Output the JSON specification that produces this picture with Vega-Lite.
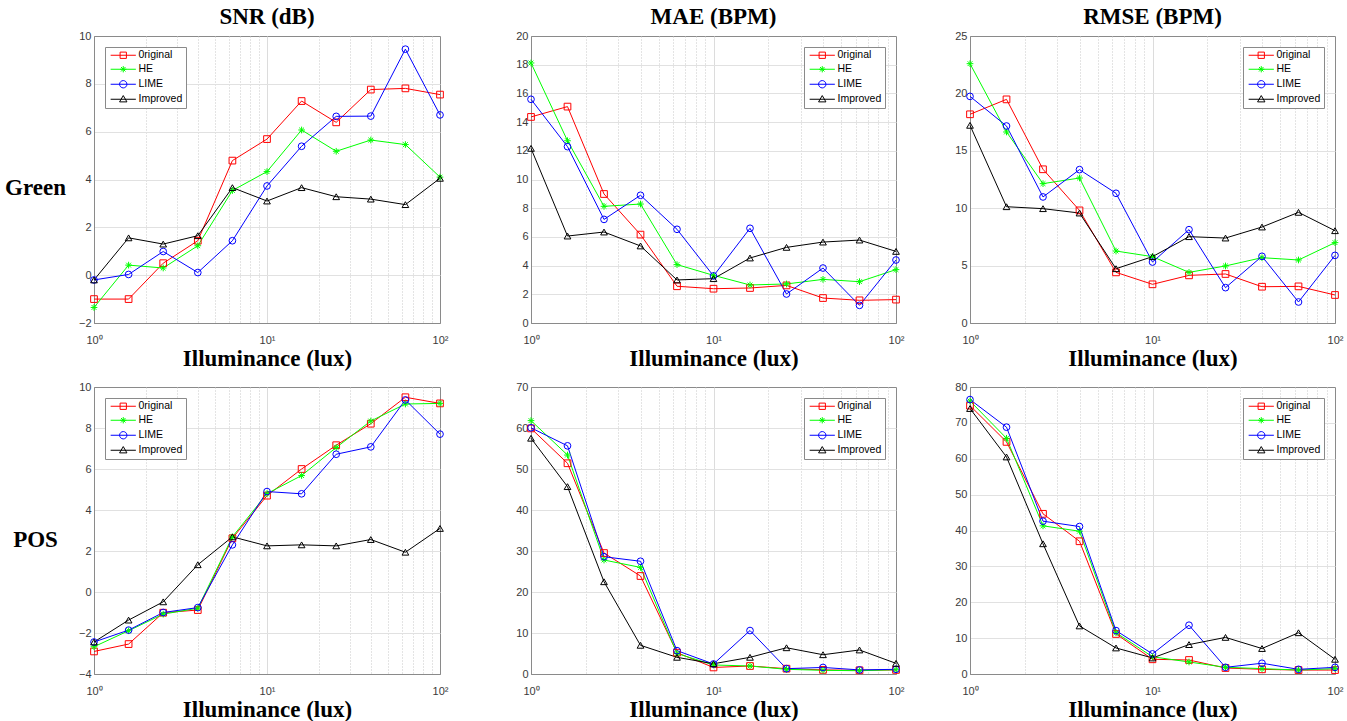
{
"$schema":"https://vega.github.io/schema/vega-lite/v6.json",
"padding":{"left":4,"top":5,"right":5,"bottom":0},
"spacing":66,
"resolve":{"scale":{"color":"independent","shape":"independent"},"legend":{"color":"independent","shape":"independent"}},
"config":{
 "font":"Liberation Sans",
 "view":{"stroke":"#8a8a8a","strokeWidth":1},
 "axis":{"domainColor":"#8a8a8a","domainWidth":1,"ticks":false,"labelFont":"Liberation Sans","labelFontSize":11,"labelColor":"#3a3a3a","labelPadding":3,"gridWidth":1,"gridColor":"#e1e1e1","labelFlush":false,"labelOverlap":false,"titleFont":"Liberation Serif","titleFontSize":23,"titleFontWeight":"bold","titleColor":"#000000"},
 "axisX":{"labelPadding":11,"titlePadding":2},
 "title":{"font":"Liberation Serif","fontSize":23,"fontWeight":"bold","color":"#000000","offset":1,"anchor":"middle"},
 "legend":{"padding":3,"strokeColor":"#8a8a8a","fillColor":"#ffffff","labelFont":"Liberation Sans","labelFontSize":10.5,"labelColor":"#000000","symbolSize":49,"symbolOffset":10,"labelOffset":10,"rowPadding":3,"symbolStrokeWidth":1,"cornerRadius":0}
},
"datasets":{"d":[
{"p":"GS","s":"0riginal","x":1,"y":-1.0},{"p":"GS","s":"0riginal","x":1.585,"y":-1.0},{"p":"GS","s":"0riginal","x":2.512,"y":0.5},{"p":"GS","s":"0riginal","x":3.981,"y":1.44},{"p":"GS","s":"0riginal","x":6.31,"y":4.79},{"p":"GS","s":"0riginal","x":10,"y":5.69},{"p":"GS","s":"0riginal","x":15.85,"y":7.28},{"p":"GS","s":"0riginal","x":25.12,"y":6.39},{"p":"GS","s":"0riginal","x":39.81,"y":7.76},{"p":"GS","s":"0riginal","x":63.1,"y":7.81},{"p":"GS","s":"0riginal","x":100,"y":7.55},
{"p":"GS","s":"HE","x":1,"y":-1.35},{"p":"GS","s":"HE","x":1.585,"y":0.42},{"p":"GS","s":"HE","x":2.512,"y":0.3},{"p":"GS","s":"HE","x":3.981,"y":1.23},{"p":"GS","s":"HE","x":6.31,"y":3.54},{"p":"GS","s":"HE","x":10,"y":4.33},{"p":"GS","s":"HE","x":15.85,"y":6.07},{"p":"GS","s":"HE","x":25.12,"y":5.18},{"p":"GS","s":"HE","x":39.81,"y":5.65},{"p":"GS","s":"HE","x":63.1,"y":5.46},{"p":"GS","s":"HE","x":100,"y":4.1},
{"p":"GS","s":"LIME","x":1,"y":-0.2},{"p":"GS","s":"LIME","x":1.585,"y":0.03},{"p":"GS","s":"LIME","x":2.512,"y":0.99},{"p":"GS","s":"LIME","x":3.981,"y":0.11},{"p":"GS","s":"LIME","x":6.31,"y":1.44},{"p":"GS","s":"LIME","x":10,"y":3.73},{"p":"GS","s":"LIME","x":15.85,"y":5.39},{"p":"GS","s":"LIME","x":25.12,"y":6.64},{"p":"GS","s":"LIME","x":39.81,"y":6.65},{"p":"GS","s":"LIME","x":63.1,"y":9.45},{"p":"GS","s":"LIME","x":100,"y":6.7},
{"p":"GS","s":"Improved","x":1,"y":-0.2},{"p":"GS","s":"Improved","x":1.585,"y":1.56},{"p":"GS","s":"Improved","x":2.512,"y":1.3},{"p":"GS","s":"Improved","x":3.981,"y":1.65},{"p":"GS","s":"Improved","x":6.31,"y":3.66},{"p":"GS","s":"Improved","x":10,"y":3.1},{"p":"GS","s":"Improved","x":15.85,"y":3.66},{"p":"GS","s":"Improved","x":25.12,"y":3.28},{"p":"GS","s":"Improved","x":39.81,"y":3.18},{"p":"GS","s":"Improved","x":63.1,"y":2.95},{"p":"GS","s":"Improved","x":100,"y":4.05},
{"p":"GM","s":"0riginal","x":1,"y":14.36},{"p":"GM","s":"0riginal","x":1.585,"y":15.08},{"p":"GM","s":"0riginal","x":2.512,"y":8.99},{"p":"GM","s":"0riginal","x":3.981,"y":6.16},{"p":"GM","s":"0riginal","x":6.31,"y":2.56},{"p":"GM","s":"0riginal","x":10,"y":2.39},{"p":"GM","s":"0riginal","x":15.85,"y":2.44},{"p":"GM","s":"0riginal","x":25.12,"y":2.62},{"p":"GM","s":"0riginal","x":39.81,"y":1.74},{"p":"GM","s":"0riginal","x":63.1,"y":1.58},{"p":"GM","s":"0riginal","x":100,"y":1.63},
{"p":"GM","s":"HE","x":1,"y":18.12},{"p":"GM","s":"HE","x":1.585,"y":12.7},{"p":"GM","s":"HE","x":2.512,"y":8.13},{"p":"GM","s":"HE","x":3.981,"y":8.29},{"p":"GM","s":"HE","x":6.31,"y":4.07},{"p":"GM","s":"HE","x":10,"y":3.32},{"p":"GM","s":"HE","x":15.85,"y":2.65},{"p":"GM","s":"HE","x":25.12,"y":2.72},{"p":"GM","s":"HE","x":39.81,"y":3.04},{"p":"GM","s":"HE","x":63.1,"y":2.88},{"p":"GM","s":"HE","x":100,"y":3.72},
{"p":"GM","s":"LIME","x":1,"y":15.59},{"p":"GM","s":"LIME","x":1.585,"y":12.29},{"p":"GM","s":"LIME","x":2.512,"y":7.22},{"p":"GM","s":"LIME","x":3.981,"y":8.9},{"p":"GM","s":"LIME","x":6.31,"y":6.53},{"p":"GM","s":"LIME","x":10,"y":3.28},{"p":"GM","s":"LIME","x":15.85,"y":6.6},{"p":"GM","s":"LIME","x":25.12,"y":2.02},{"p":"GM","s":"LIME","x":39.81,"y":3.83},{"p":"GM","s":"LIME","x":63.1,"y":1.23},{"p":"GM","s":"LIME","x":100,"y":4.39},
{"p":"GM","s":"Improved","x":1,"y":12.17},{"p":"GM","s":"Improved","x":1.585,"y":6.06},{"p":"GM","s":"Improved","x":2.512,"y":6.34},{"p":"GM","s":"Improved","x":3.981,"y":5.37},{"p":"GM","s":"Improved","x":6.31,"y":3.0},{"p":"GM","s":"Improved","x":10,"y":3.09},{"p":"GM","s":"Improved","x":15.85,"y":4.53},{"p":"GM","s":"Improved","x":25.12,"y":5.27},{"p":"GM","s":"Improved","x":39.81,"y":5.64},{"p":"GM","s":"Improved","x":63.1,"y":5.78},{"p":"GM","s":"Improved","x":100,"y":4.99},
{"p":"GR","s":"0riginal","x":1,"y":18.18},{"p":"GR","s":"0riginal","x":1.585,"y":19.48},{"p":"GR","s":"0riginal","x":2.512,"y":13.39},{"p":"GR","s":"0riginal","x":3.981,"y":9.81},{"p":"GR","s":"0riginal","x":6.31,"y":4.41},{"p":"GR","s":"0riginal","x":10,"y":3.37},{"p":"GR","s":"0riginal","x":15.85,"y":4.15},{"p":"GR","s":"0riginal","x":25.12,"y":4.27},{"p":"GR","s":"0riginal","x":39.81,"y":3.16},{"p":"GR","s":"0riginal","x":63.1,"y":3.19},{"p":"GR","s":"0riginal","x":100,"y":2.44},
{"p":"GR","s":"HE","x":1,"y":22.59},{"p":"GR","s":"HE","x":1.585,"y":16.64},{"p":"GR","s":"HE","x":2.512,"y":12.14},{"p":"GR","s":"HE","x":3.981,"y":12.63},{"p":"GR","s":"HE","x":6.31,"y":6.27},{"p":"GR","s":"HE","x":10,"y":5.78},{"p":"GR","s":"HE","x":15.85,"y":4.41},{"p":"GR","s":"HE","x":25.12,"y":4.97},{"p":"GR","s":"HE","x":39.81,"y":5.69},{"p":"GR","s":"HE","x":63.1,"y":5.49},{"p":"GR","s":"HE","x":100,"y":7.0},
{"p":"GR","s":"LIME","x":1,"y":19.74},{"p":"GR","s":"LIME","x":1.585,"y":17.16},{"p":"GR","s":"LIME","x":2.512,"y":10.98},{"p":"GR","s":"LIME","x":3.981,"y":13.36},{"p":"GR","s":"LIME","x":6.31,"y":11.3},{"p":"GR","s":"LIME","x":10,"y":5.31},{"p":"GR","s":"LIME","x":15.85,"y":8.13},{"p":"GR","s":"LIME","x":25.12,"y":3.08},{"p":"GR","s":"LIME","x":39.81,"y":5.81},{"p":"GR","s":"LIME","x":63.1,"y":1.83},{"p":"GR","s":"LIME","x":100,"y":5.89},
{"p":"GR","s":"Improved","x":1,"y":17.22},{"p":"GR","s":"Improved","x":1.585,"y":10.13},{"p":"GR","s":"Improved","x":2.512,"y":9.96},{"p":"GR","s":"Improved","x":3.981,"y":9.58},{"p":"GR","s":"Improved","x":6.31,"y":4.73},{"p":"GR","s":"Improved","x":10,"y":5.78},{"p":"GR","s":"Improved","x":15.85,"y":7.52},{"p":"GR","s":"Improved","x":25.12,"y":7.4},{"p":"GR","s":"Improved","x":39.81,"y":8.36},{"p":"GR","s":"Improved","x":63.1,"y":9.64},{"p":"GR","s":"Improved","x":100,"y":8.04},
{"p":"PS","s":"0riginal","x":1,"y":-2.9},{"p":"PS","s":"0riginal","x":1.585,"y":-2.54},{"p":"PS","s":"0riginal","x":2.512,"y":-1.01},{"p":"PS","s":"0riginal","x":3.981,"y":-0.88},{"p":"PS","s":"0riginal","x":6.31,"y":2.62},{"p":"PS","s":"0riginal","x":10,"y":4.7},{"p":"PS","s":"0riginal","x":15.85,"y":6.0},{"p":"PS","s":"0riginal","x":25.12,"y":7.16},{"p":"PS","s":"0riginal","x":39.81,"y":8.21},{"p":"PS","s":"0riginal","x":63.1,"y":9.5},{"p":"PS","s":"0riginal","x":100,"y":9.2},
{"p":"PS","s":"HE","x":1,"y":-2.67},{"p":"PS","s":"HE","x":1.585,"y":-1.89},{"p":"PS","s":"HE","x":2.512,"y":-1.08},{"p":"PS","s":"HE","x":3.981,"y":-0.79},{"p":"PS","s":"HE","x":6.31,"y":2.69},{"p":"PS","s":"HE","x":10,"y":4.8},{"p":"PS","s":"HE","x":15.85,"y":5.68},{"p":"PS","s":"HE","x":25.12,"y":7.05},{"p":"PS","s":"HE","x":39.81,"y":8.34},{"p":"PS","s":"HE","x":63.1,"y":9.17},{"p":"PS","s":"HE","x":100,"y":9.2},
{"p":"PS","s":"LIME","x":1,"y":-2.44},{"p":"PS","s":"LIME","x":1.585,"y":-1.86},{"p":"PS","s":"LIME","x":2.512,"y":-1.0},{"p":"PS","s":"LIME","x":3.981,"y":-0.76},{"p":"PS","s":"LIME","x":6.31,"y":2.3},{"p":"PS","s":"LIME","x":10,"y":4.9},{"p":"PS","s":"LIME","x":15.85,"y":4.79},{"p":"PS","s":"LIME","x":25.12,"y":6.72},{"p":"PS","s":"LIME","x":39.81,"y":7.08},{"p":"PS","s":"LIME","x":63.1,"y":9.37},{"p":"PS","s":"LIME","x":100,"y":7.7},
{"p":"PS","s":"Improved","x":1,"y":-2.44},{"p":"PS","s":"Improved","x":1.585,"y":-1.37},{"p":"PS","s":"Improved","x":2.512,"y":-0.48},{"p":"PS","s":"Improved","x":3.981,"y":1.33},{"p":"PS","s":"Improved","x":6.31,"y":2.69},{"p":"PS","s":"Improved","x":10,"y":2.25},{"p":"PS","s":"Improved","x":15.85,"y":2.3},{"p":"PS","s":"Improved","x":25.12,"y":2.25},{"p":"PS","s":"Improved","x":39.81,"y":2.56},{"p":"PS","s":"Improved","x":63.1,"y":1.94},{"p":"PS","s":"Improved","x":100,"y":3.1},
{"p":"PM","s":"0riginal","x":1,"y":59.9},{"p":"PM","s":"0riginal","x":1.585,"y":51.4},{"p":"PM","s":"0riginal","x":2.512,"y":29.5},{"p":"PM","s":"0riginal","x":3.981,"y":23.9},{"p":"PM","s":"0riginal","x":6.31,"y":5.2},{"p":"PM","s":"0riginal","x":10,"y":1.6},{"p":"PM","s":"0riginal","x":15.85,"y":1.95},{"p":"PM","s":"0riginal","x":25.12,"y":1.3},{"p":"PM","s":"0riginal","x":39.81,"y":1.0},{"p":"PM","s":"0riginal","x":63.1,"y":0.9},{"p":"PM","s":"0riginal","x":100,"y":1.0},
{"p":"PM","s":"HE","x":1,"y":61.8},{"p":"PM","s":"HE","x":1.585,"y":53.4},{"p":"PM","s":"HE","x":2.512,"y":27.8},{"p":"PM","s":"HE","x":3.981,"y":26.0},{"p":"PM","s":"HE","x":6.31,"y":5.0},{"p":"PM","s":"HE","x":10,"y":2.2},{"p":"PM","s":"HE","x":15.85,"y":1.95},{"p":"PM","s":"HE","x":25.12,"y":1.14},{"p":"PM","s":"HE","x":39.81,"y":0.9},{"p":"PM","s":"HE","x":63.1,"y":0.8},{"p":"PM","s":"HE","x":100,"y":1.05},
{"p":"PM","s":"LIME","x":1,"y":60.05},{"p":"PM","s":"LIME","x":1.585,"y":55.65},{"p":"PM","s":"LIME","x":2.512,"y":28.6},{"p":"PM","s":"LIME","x":3.981,"y":27.5},{"p":"PM","s":"LIME","x":6.31,"y":5.7},{"p":"PM","s":"LIME","x":10,"y":2.44},{"p":"PM","s":"LIME","x":15.85,"y":10.6},{"p":"PM","s":"LIME","x":25.12,"y":1.3},{"p":"PM","s":"LIME","x":39.81,"y":1.6},{"p":"PM","s":"LIME","x":63.1,"y":1.0},{"p":"PM","s":"LIME","x":100,"y":1.14},
{"p":"PM","s":"Improved","x":1,"y":57.5},{"p":"PM","s":"Improved","x":1.585,"y":45.7},{"p":"PM","s":"Improved","x":2.512,"y":22.5},{"p":"PM","s":"Improved","x":3.981,"y":7.0},{"p":"PM","s":"Improved","x":6.31,"y":4.07},{"p":"PM","s":"Improved","x":10,"y":2.5},{"p":"PM","s":"Improved","x":15.85,"y":4.07},{"p":"PM","s":"Improved","x":25.12,"y":6.4},{"p":"PM","s":"Improved","x":39.81,"y":4.7},{"p":"PM","s":"Improved","x":63.1,"y":5.86},{"p":"PM","s":"Improved","x":100,"y":2.6},
{"p":"PR","s":"0riginal","x":1,"y":74.8},{"p":"PR","s":"0riginal","x":1.585,"y":64.7},{"p":"PR","s":"0riginal","x":2.512,"y":44.65},{"p":"PR","s":"0riginal","x":3.981,"y":37.0},{"p":"PR","s":"0riginal","x":6.31,"y":11.16},{"p":"PR","s":"0riginal","x":10,"y":4.1},{"p":"PR","s":"0riginal","x":15.85,"y":3.9},{"p":"PR","s":"0riginal","x":25.12,"y":1.67},{"p":"PR","s":"0riginal","x":39.81,"y":1.3},{"p":"PR","s":"0riginal","x":63.1,"y":1.1},{"p":"PR","s":"0riginal","x":100,"y":1.1},
{"p":"PR","s":"HE","x":1,"y":76.1},{"p":"PR","s":"HE","x":1.585,"y":65.7},{"p":"PR","s":"HE","x":2.512,"y":41.3},{"p":"PR","s":"HE","x":3.981,"y":39.8},{"p":"PR","s":"HE","x":6.31,"y":11.5},{"p":"PR","s":"HE","x":10,"y":4.8},{"p":"PR","s":"HE","x":15.85,"y":3.35},{"p":"PR","s":"HE","x":25.12,"y":1.86},{"p":"PR","s":"HE","x":39.81,"y":1.5},{"p":"PR","s":"HE","x":63.1,"y":1.1},{"p":"PR","s":"HE","x":100,"y":1.5},
{"p":"PR","s":"LIME","x":1,"y":76.5},{"p":"PR","s":"LIME","x":1.585,"y":68.8},{"p":"PR","s":"LIME","x":2.512,"y":42.6},{"p":"PR","s":"LIME","x":3.981,"y":41.1},{"p":"PR","s":"LIME","x":6.31,"y":12.1},{"p":"PR","s":"LIME","x":10,"y":5.6},{"p":"PR","s":"LIME","x":15.85,"y":13.6},{"p":"PR","s":"LIME","x":25.12,"y":1.86},{"p":"PR","s":"LIME","x":39.81,"y":3.0},{"p":"PR","s":"LIME","x":63.1,"y":1.3},{"p":"PR","s":"LIME","x":100,"y":1.86},
{"p":"PR","s":"Improved","x":1,"y":74.0},{"p":"PR","s":"Improved","x":1.585,"y":60.5},{"p":"PR","s":"Improved","x":2.512,"y":36.3},{"p":"PR","s":"Improved","x":3.981,"y":13.4},{"p":"PR","s":"Improved","x":6.31,"y":7.26},{"p":"PR","s":"Improved","x":10,"y":4.47},{"p":"PR","s":"Improved","x":15.85,"y":8.2},{"p":"PR","s":"Improved","x":25.12,"y":10.2},{"p":"PR","s":"Improved","x":39.81,"y":7.1},{"p":"PR","s":"Improved","x":63.1,"y":11.5},{"p":"PR","s":"Improved","x":100,"y":4.1}
]},
"hconcat":[
 {"vconcat":[
  {"width":346,"height":287,"title":"SNR (dB)","data":{"name":"d"},"transform":[{"filter":"datum.p==='GS'"}],
   "encoding":{
    "x":{"field":"x","type":"quantitative","scale":{"type":"log","domain":[1,100],"nice":false},"axis":{"values":[1,2,3,4,5,6,7,8,9,10,20,30,40,50,60,70,80,90,100],"labelExpr":"datum.value===1?'10⁰':datum.value===10?'10¹':datum.value===100?'10²':''","gridDash":{"condition":{"test":"datum.value===10","value":[]},"value":[1,2]},"gridOpacity":{"condition":{"test":"datum.value===1||datum.value===100","value":0},"value":1},"gridColor":{"condition":{"test":"datum.value===10","value":"#dcdcdc"},"value":"#c8c8c8"},"title":"Illuminance (lux)"}},
    "y":{"field":"y","type":"quantitative","scale":{"domain":[-2,10],"nice":false,"zero":false},"axis":{"values":[-2,0,2,4,6,8,10],"gridOpacity":{"condition":{"test":"datum.value===-2||datum.value===10","value":0},"value":1},"title":"Green","titleAngle":0,"titleX":-59,"titleY":151,"titleAlign":"center","titleBaseline":"middle"}}
   },
   "layer":[
    {"mark":{"type":"line","strokeWidth":1},"encoding":{"color":{"field":"s","type":"nominal","scale":{"domain":["0riginal","HE","LIME","Improved"],"range":["#ff0000","#00ff00","#0000ff","#000000"]},"legend":{"title":null,"orient":"top-left","offset":11,"encode":{"symbols":{"update":{"shape":{"signal":"datum.value==='0riginal'?'M-3.6,0H3.6M-0.9,-0.9H0.9V0.9H-0.9Z':datum.value==='HE'?'M-3.6,0H3.6M-0.9,0H0.9M0,-0.9V0.9M-0.64,-0.64L0.64,0.64M-0.64,0.64L0.64,-0.64':datum.value==='LIME'?'M-3.6,0H3.6M-1.05,0A1.05,1.05,0,1,0,1.05,0A1.05,1.05,0,1,0,-1.05,0':'M-3.6,0H3.6M0,-1.05L1.05,0.75H-1.05Z'"},"fill":{"value":"transparent"},"strokeWidth":{"value":1}}}}}}}},
    {"mark":{"type":"point","filled":false,"strokeWidth":1,"size":45,"opacity":1},"encoding":{"color":{"field":"s","type":"nominal","scale":{"domain":["0riginal","HE","LIME","Improved"],"range":["#ff0000","#00ff00","#0000ff","#000000"]},"legend":null},"shape":{"field":"s","type":"nominal","scale":{"domain":["Improved","LIME","HE","0riginal"],"range":["triangle-up","circle","M-1,0H1M0,-1V1M-0.71,-0.71L0.71,0.71M-0.71,0.71L0.71,-0.71","square"]},"legend":null}}}
   ]},
  {"width":346,"height":287,"data":{"name":"d"},"transform":[{"filter":"datum.p==='PS'"}],
   "encoding":{
    "x":{"field":"x","type":"quantitative","scale":{"type":"log","domain":[1,100],"nice":false},"axis":{"values":[1,2,3,4,5,6,7,8,9,10,20,30,40,50,60,70,80,90,100],"labelExpr":"datum.value===1?'10⁰':datum.value===10?'10¹':datum.value===100?'10²':''","gridDash":{"condition":{"test":"datum.value===10","value":[]},"value":[1,2]},"gridOpacity":{"condition":{"test":"datum.value===1||datum.value===100","value":0},"value":1},"gridColor":{"condition":{"test":"datum.value===10","value":"#dcdcdc"},"value":"#c8c8c8"},"title":"Illuminance (lux)"}},
    "y":{"field":"y","type":"quantitative","scale":{"domain":[-4,10],"nice":false,"zero":false},"axis":{"values":[-4,-2,0,2,4,6,8,10],"gridOpacity":{"condition":{"test":"datum.value===-4||datum.value===10","value":0},"value":1},"title":"POS","titleAngle":0,"titleX":-59,"titleY":152,"titleAlign":"center","titleBaseline":"middle"}}
   },
   "layer":[
    {"mark":{"type":"line","strokeWidth":1},"encoding":{"color":{"field":"s","type":"nominal","scale":{"domain":["0riginal","HE","LIME","Improved"],"range":["#ff0000","#00ff00","#0000ff","#000000"]},"legend":{"title":null,"orient":"top-left","offset":11,"encode":{"symbols":{"update":{"shape":{"signal":"datum.value==='0riginal'?'M-3.6,0H3.6M-0.9,-0.9H0.9V0.9H-0.9Z':datum.value==='HE'?'M-3.6,0H3.6M-0.9,0H0.9M0,-0.9V0.9M-0.64,-0.64L0.64,0.64M-0.64,0.64L0.64,-0.64':datum.value==='LIME'?'M-3.6,0H3.6M-1.05,0A1.05,1.05,0,1,0,1.05,0A1.05,1.05,0,1,0,-1.05,0':'M-3.6,0H3.6M0,-1.05L1.05,0.75H-1.05Z'"},"fill":{"value":"transparent"},"strokeWidth":{"value":1}}}}}}}},
    {"mark":{"type":"point","filled":false,"strokeWidth":1,"size":45,"opacity":1},"encoding":{"color":{"field":"s","type":"nominal","scale":{"domain":["0riginal","HE","LIME","Improved"],"range":["#ff0000","#00ff00","#0000ff","#000000"]},"legend":null},"shape":{"field":"s","type":"nominal","scale":{"domain":["Improved","LIME","HE","0riginal"],"range":["triangle-up","circle","M-1,0H1M0,-1V1M-0.71,-0.71L0.71,0.71M-0.71,0.71L0.71,-0.71","square"]},"legend":null}}}
   ]}
 ],"spacing":9,"resolve":{"scale":{"color":"independent","shape":"independent"},"legend":{"color":"independent","shape":"independent"}}},
 {"hconcat":[
  {"vconcat":[
   {"width":365,"height":287,"title":"MAE (BPM)","data":{"name":"d"},"transform":[{"filter":"datum.p==='GM'"}],
    "encoding":{
     "x":{"field":"x","type":"quantitative","scale":{"type":"log","domain":[1,100],"nice":false},"axis":{"values":[1,2,3,4,5,6,7,8,9,10,20,30,40,50,60,70,80,90,100],"labelExpr":"datum.value===1?'10⁰':datum.value===10?'10¹':datum.value===100?'10²':''","gridDash":{"condition":{"test":"datum.value===10","value":[]},"value":[1,2]},"gridOpacity":{"condition":{"test":"datum.value===1||datum.value===100","value":0},"value":1},"gridColor":{"condition":{"test":"datum.value===10","value":"#dcdcdc"},"value":"#c8c8c8"},"title":"Illuminance (lux)"}},
     "y":{"field":"y","type":"quantitative","scale":{"domain":[0,20],"nice":false},"axis":{"values":[0,2,4,6,8,10,12,14,16,18,20],"gridOpacity":{"condition":{"test":"datum.value===0||datum.value===20","value":0},"value":1},"title":null}}
    },
    "layer":[
     {"mark":{"type":"line","strokeWidth":1},"encoding":{"color":{"field":"s","type":"nominal","scale":{"domain":["0riginal","HE","LIME","Improved"],"range":["#ff0000","#00ff00","#0000ff","#000000"]},"legend":{"title":null,"orient":"top-right","offset":11,"encode":{"symbols":{"update":{"shape":{"signal":"datum.value==='0riginal'?'M-3.6,0H3.6M-0.9,-0.9H0.9V0.9H-0.9Z':datum.value==='HE'?'M-3.6,0H3.6M-0.9,0H0.9M0,-0.9V0.9M-0.64,-0.64L0.64,0.64M-0.64,0.64L0.64,-0.64':datum.value==='LIME'?'M-3.6,0H3.6M-1.05,0A1.05,1.05,0,1,0,1.05,0A1.05,1.05,0,1,0,-1.05,0':'M-3.6,0H3.6M0,-1.05L1.05,0.75H-1.05Z'"},"fill":{"value":"transparent"},"strokeWidth":{"value":1}}}}}}}},
     {"mark":{"type":"point","filled":false,"strokeWidth":1,"size":45,"opacity":1},"encoding":{"color":{"field":"s","type":"nominal","scale":{"domain":["0riginal","HE","LIME","Improved"],"range":["#ff0000","#00ff00","#0000ff","#000000"]},"legend":null},"shape":{"field":"s","type":"nominal","scale":{"domain":["Improved","LIME","HE","0riginal"],"range":["triangle-up","circle","M-1,0H1M0,-1V1M-0.71,-0.71L0.71,0.71M-0.71,0.71L0.71,-0.71","square"]},"legend":null}}}
    ]},
   {"width":365,"height":287,"data":{"name":"d"},"transform":[{"filter":"datum.p==='PM'"}],
    "encoding":{
     "x":{"field":"x","type":"quantitative","scale":{"type":"log","domain":[1,100],"nice":false},"axis":{"values":[1,2,3,4,5,6,7,8,9,10,20,30,40,50,60,70,80,90,100],"labelExpr":"datum.value===1?'10⁰':datum.value===10?'10¹':datum.value===100?'10²':''","gridDash":{"condition":{"test":"datum.value===10","value":[]},"value":[1,2]},"gridOpacity":{"condition":{"test":"datum.value===1||datum.value===100","value":0},"value":1},"gridColor":{"condition":{"test":"datum.value===10","value":"#dcdcdc"},"value":"#c8c8c8"},"title":"Illuminance (lux)"}},
     "y":{"field":"y","type":"quantitative","scale":{"domain":[0,70],"nice":false},"axis":{"values":[0,10,20,30,40,50,60,70],"gridOpacity":{"condition":{"test":"datum.value===0||datum.value===70","value":0},"value":1},"title":null}}
    },
    "layer":[
     {"mark":{"type":"line","strokeWidth":1},"encoding":{"color":{"field":"s","type":"nominal","scale":{"domain":["0riginal","HE","LIME","Improved"],"range":["#ff0000","#00ff00","#0000ff","#000000"]},"legend":{"title":null,"orient":"top-right","offset":11,"encode":{"symbols":{"update":{"shape":{"signal":"datum.value==='0riginal'?'M-3.6,0H3.6M-0.9,-0.9H0.9V0.9H-0.9Z':datum.value==='HE'?'M-3.6,0H3.6M-0.9,0H0.9M0,-0.9V0.9M-0.64,-0.64L0.64,0.64M-0.64,0.64L0.64,-0.64':datum.value==='LIME'?'M-3.6,0H3.6M-1.05,0A1.05,1.05,0,1,0,1.05,0A1.05,1.05,0,1,0,-1.05,0':'M-3.6,0H3.6M0,-1.05L1.05,0.75H-1.05Z'"},"fill":{"value":"transparent"},"strokeWidth":{"value":1}}}}}}}},
     {"mark":{"type":"point","filled":false,"strokeWidth":1,"size":45,"opacity":1},"encoding":{"color":{"field":"s","type":"nominal","scale":{"domain":["0riginal","HE","LIME","Improved"],"range":["#ff0000","#00ff00","#0000ff","#000000"]},"legend":null},"shape":{"field":"s","type":"nominal","scale":{"domain":["Improved","LIME","HE","0riginal"],"range":["triangle-up","circle","M-1,0H1M0,-1V1M-0.71,-0.71L0.71,0.71M-0.71,0.71L0.71,-0.71","square"]},"legend":null}}}
    ]}
  ],"spacing":9,"resolve":{"scale":{"color":"independent","shape":"independent"},"legend":{"color":"independent","shape":"independent"}}},
  {"vconcat":[
   {"width":365,"height":287,"title":"RMSE (BPM)","data":{"name":"d"},"transform":[{"filter":"datum.p==='GR'"}],
    "encoding":{
     "x":{"field":"x","type":"quantitative","scale":{"type":"log","domain":[1,100],"nice":false},"axis":{"values":[1,2,3,4,5,6,7,8,9,10,20,30,40,50,60,70,80,90,100],"labelExpr":"datum.value===1?'10⁰':datum.value===10?'10¹':datum.value===100?'10²':''","gridDash":{"condition":{"test":"datum.value===10","value":[]},"value":[1,2]},"gridOpacity":{"condition":{"test":"datum.value===1||datum.value===100","value":0},"value":1},"gridColor":{"condition":{"test":"datum.value===10","value":"#dcdcdc"},"value":"#c8c8c8"},"title":"Illuminance (lux)"}},
     "y":{"field":"y","type":"quantitative","scale":{"domain":[0,25],"nice":false},"axis":{"values":[0,5,10,15,20,25],"gridOpacity":{"condition":{"test":"datum.value===0||datum.value===25","value":0},"value":1},"title":null}}
    },
    "layer":[
     {"mark":{"type":"line","strokeWidth":1},"encoding":{"color":{"field":"s","type":"nominal","scale":{"domain":["0riginal","HE","LIME","Improved"],"range":["#ff0000","#00ff00","#0000ff","#000000"]},"legend":{"title":null,"orient":"top-right","offset":11,"encode":{"symbols":{"update":{"shape":{"signal":"datum.value==='0riginal'?'M-3.6,0H3.6M-0.9,-0.9H0.9V0.9H-0.9Z':datum.value==='HE'?'M-3.6,0H3.6M-0.9,0H0.9M0,-0.9V0.9M-0.64,-0.64L0.64,0.64M-0.64,0.64L0.64,-0.64':datum.value==='LIME'?'M-3.6,0H3.6M-1.05,0A1.05,1.05,0,1,0,1.05,0A1.05,1.05,0,1,0,-1.05,0':'M-3.6,0H3.6M0,-1.05L1.05,0.75H-1.05Z'"},"fill":{"value":"transparent"},"strokeWidth":{"value":1}}}}}}}},
     {"mark":{"type":"point","filled":false,"strokeWidth":1,"size":45,"opacity":1},"encoding":{"color":{"field":"s","type":"nominal","scale":{"domain":["0riginal","HE","LIME","Improved"],"range":["#ff0000","#00ff00","#0000ff","#000000"]},"legend":null},"shape":{"field":"s","type":"nominal","scale":{"domain":["Improved","LIME","HE","0riginal"],"range":["triangle-up","circle","M-1,0H1M0,-1V1M-0.71,-0.71L0.71,0.71M-0.71,0.71L0.71,-0.71","square"]},"legend":null}}}
    ]},
   {"width":365,"height":287,"data":{"name":"d"},"transform":[{"filter":"datum.p==='PR'"}],
    "encoding":{
     "x":{"field":"x","type":"quantitative","scale":{"type":"log","domain":[1,100],"nice":false},"axis":{"values":[1,2,3,4,5,6,7,8,9,10,20,30,40,50,60,70,80,90,100],"labelExpr":"datum.value===1?'10⁰':datum.value===10?'10¹':datum.value===100?'10²':''","gridDash":{"condition":{"test":"datum.value===10","value":[]},"value":[1,2]},"gridOpacity":{"condition":{"test":"datum.value===1||datum.value===100","value":0},"value":1},"gridColor":{"condition":{"test":"datum.value===10","value":"#dcdcdc"},"value":"#c8c8c8"},"title":"Illuminance (lux)"}},
     "y":{"field":"y","type":"quantitative","scale":{"domain":[0,80],"nice":false},"axis":{"values":[0,10,20,30,40,50,60,70,80],"gridOpacity":{"condition":{"test":"datum.value===0||datum.value===80","value":0},"value":1},"title":null}}
    },
    "layer":[
     {"mark":{"type":"line","strokeWidth":1},"encoding":{"color":{"field":"s","type":"nominal","scale":{"domain":["0riginal","HE","LIME","Improved"],"range":["#ff0000","#00ff00","#0000ff","#000000"]},"legend":{"title":null,"orient":"top-right","offset":11,"encode":{"symbols":{"update":{"shape":{"signal":"datum.value==='0riginal'?'M-3.6,0H3.6M-0.9,-0.9H0.9V0.9H-0.9Z':datum.value==='HE'?'M-3.6,0H3.6M-0.9,0H0.9M0,-0.9V0.9M-0.64,-0.64L0.64,0.64M-0.64,0.64L0.64,-0.64':datum.value==='LIME'?'M-3.6,0H3.6M-1.05,0A1.05,1.05,0,1,0,1.05,0A1.05,1.05,0,1,0,-1.05,0':'M-3.6,0H3.6M0,-1.05L1.05,0.75H-1.05Z'"},"fill":{"value":"transparent"},"strokeWidth":{"value":1}}}}}}}},
     {"mark":{"type":"point","filled":false,"strokeWidth":1,"size":45,"opacity":1},"encoding":{"color":{"field":"s","type":"nominal","scale":{"domain":["0riginal","HE","LIME","Improved"],"range":["#ff0000","#00ff00","#0000ff","#000000"]},"legend":null},"shape":{"field":"s","type":"nominal","scale":{"domain":["Improved","LIME","HE","0riginal"],"range":["triangle-up","circle","M-1,0H1M0,-1V1M-0.71,-0.71L0.71,0.71M-0.71,0.71L0.71,-0.71","square"]},"legend":null}}}
    ]}
  ],"spacing":9,"resolve":{"scale":{"color":"independent","shape":"independent"},"legend":{"color":"independent","shape":"independent"}}}
 ],"spacing":49,"resolve":{"scale":{"color":"independent","shape":"independent"},"legend":{"color":"independent","shape":"independent"}}}
]
}
